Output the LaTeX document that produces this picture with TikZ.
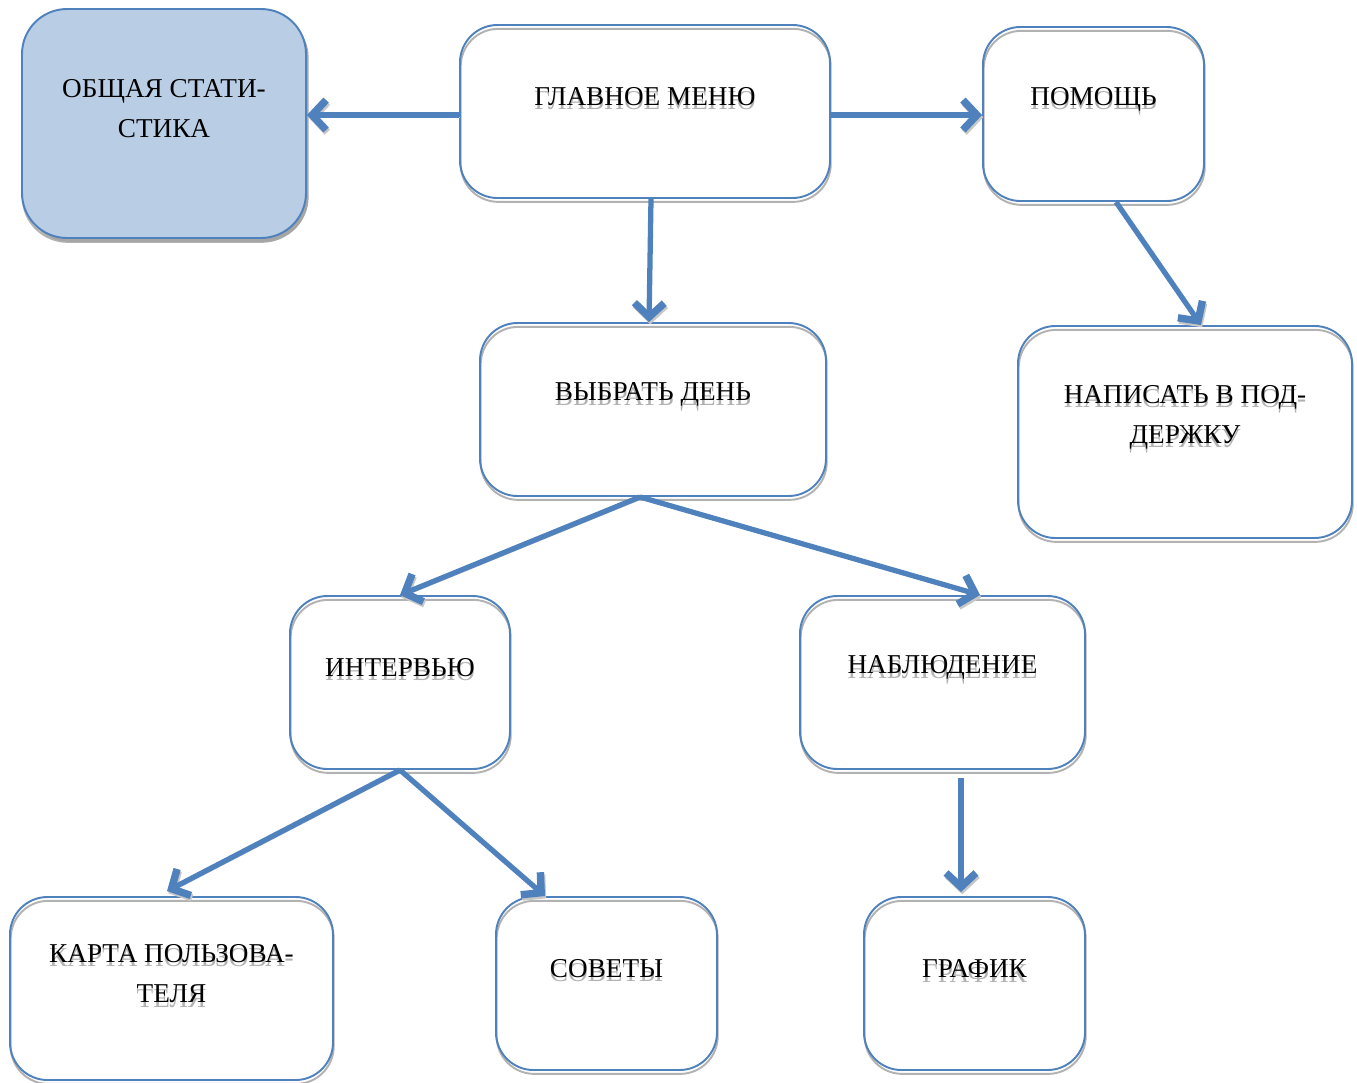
\documentclass[tikz,border=0pt]{standalone}
\usepackage{fontspec}
\setmainfont{Liberation Serif}
\usetikzlibrary{arrows.meta,shadows}
\definecolor{wordblue}{HTML}{4F81BD}
\definecolor{statfill}{HTML}{B9CDE5}
\tikzset{
  box/.style={draw=wordblue, line width=1.1pt, rounded corners=0.75cm, inner sep=0pt,
    drop shadow={shadow xshift=0.4pt, shadow yshift=-2.2pt, fill=none, draw=black!30, opacity=1}},
  txt/.style={yshift=0.3cm, align=center, inner sep=0pt, font=\fontsize{15.5}{22.8}\selectfont},
  txtshadow/.style={txt, yshift=-2.6pt, text=black!30},
  lab/.style={label={[txtshadow]center:{#1}}, label={[txt]center:{#1}}},
  arr/.style={draw=wordblue, line width=3pt, -{Straight Barb[length=8pt, width=17pt, line width=4.2pt]},
    preaction={draw=black!22, transform canvas={shift={(0.7pt,-1.3pt)}}}}
}

\begin{document}
\begin{tikzpicture}
			\useasboundingbox (0, 0) rectangle (27.14, -21.64);
			%%%%% BOXES %%%%%
			\node[box, fill=statfill, rounded corners=0.9cm, minimum width=5.68cm, minimum height=4.58cm,
			  drop shadow={shadow xshift=1.5pt, shadow yshift=-2.2pt, fill=black!35, draw=none, opacity=1},
			  label={[txt]center:{ОБЩАЯ СТАТИ-\\СТИКА}}] (stat) at (3.28, -2.47) {};
			\node[box, minimum width=7.4cm, minimum height=3.46cm, lab={ГЛАВНОЕ МЕНЮ}] (menu) at (12.9, -2.23) {};
			\node[box, minimum width=4.42cm, minimum height=3.48cm, lab={ПОМОЩЬ}] (help) at (21.87, -2.28) {};
			
			\node[box, minimum width=6.92cm, minimum height=3.46cm, lab={ВЫБРАТЬ ДЕНЬ}] (day) at (13.06, -8.19) {};
			\node[box, minimum width=6.68cm, minimum height=4.24cm, lab={НАПИСАТЬ В ПОД-\\ДЕРЖКУ}] (support) at (23.7, -8.64) {};
			
			\node[box, minimum width=4.4cm, minimum height=3.46cm, lab={ИНТЕРВЬЮ}] (interview) at (8.0, -13.65) {};
			\node[box, minimum width=5.7cm, minimum height=3.46cm, lab={НАБЛЮДЕНИЕ}] (observe) at (18.85, -13.65) {};
			
			\node[box, minimum width=6.46cm, minimum height=3.66cm, lab={КАРТА ПОЛЬЗОВА-\\ТЕЛЯ}] (card) at (3.43, -19.77) {};
			\node[box, minimum width=4.42cm, minimum height=3.46cm, lab={СОВЕТЫ}] (tips) at (12.13, -19.67) {};
			\node[box, minimum width=4.42cm, minimum height=3.46cm, lab={ГРАФИК}] (graph) at (19.49, -19.67) {};
			
			%%%%% ARROWS %%%%%
			\draw[arr] ([yshift=-0.07cm]menu.west) -- ([yshift=-0.07cm]menu.west -| stat.east);
			\draw[arr] ([yshift=-0.07cm]menu.east) -- ([yshift=-0.07cm]menu.east -| help.west);
			\draw[arr] ([xshift=0.12cm]menu.south) -- ([xshift=-0.08cm]day.north);
			\draw[arr] ([xshift=0.45cm]help.south) -- ([xshift=0.32cm]support.north);
			
			\draw[arr] ([xshift=-0.26cm]day.south) -- (interview.north);
			\draw[arr] ([xshift=-0.26cm]day.south) -- ([xshift=0.75cm]observe.north);
			
			\draw[arr] (interview.south) -- ([xshift=-0.09cm, yshift=0.1cm]card.north);
			\draw[arr] (interview.south) -- ([xshift=-1.23cm]tips.north);
			\draw[arr] ([xshift=0.37cm, yshift=-0.16cm]observe.south) -- ([xshift=-0.27cm, yshift=0.08cm]graph.north);
		\end{tikzpicture}
\end{document}
